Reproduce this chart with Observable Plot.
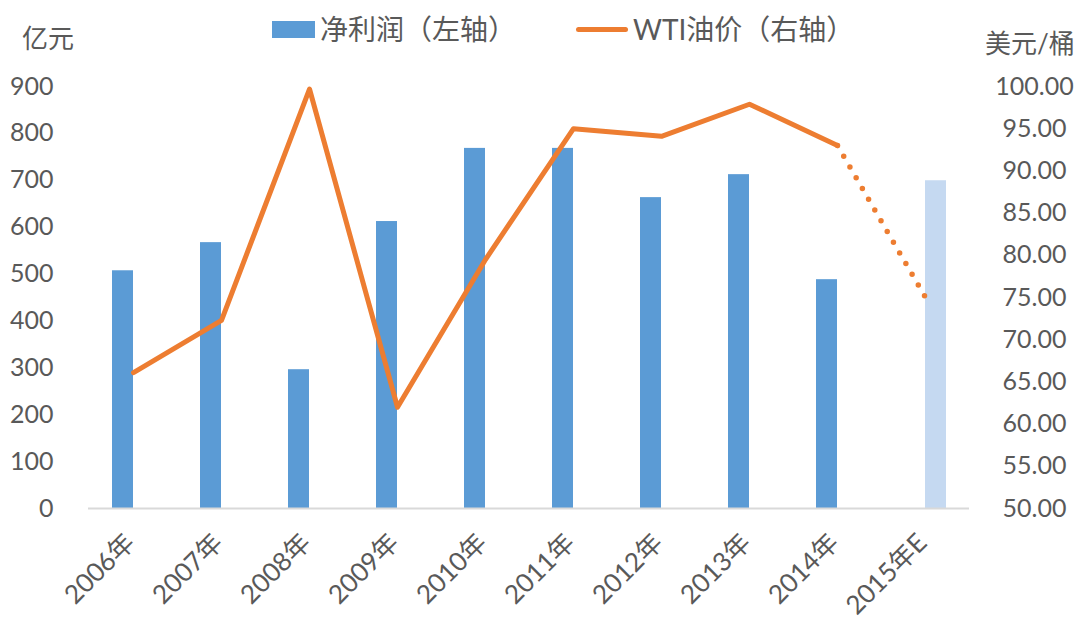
<!DOCTYPE html>
<html><head><meta charset="utf-8">
<script src="https://cdn.jsdelivr.net/npm/d3@7"></script>
<script src="https://cdn.jsdelivr.net/npm/@observablehq/plot@0.6"></script>
<style>
body{margin:0;background:#fff;font-family:Lato,"Noto Sans CJK SC",sans-serif;color:#595959}
#wrap{position:relative;width:1082px;height:619px;overflow:hidden}
.t{position:absolute;font-size:26px;white-space:nowrap;line-height:1;color:#595959}
.lg{display:flex;align-items:center;font-size:28px}
</style></head><body>
<div id="wrap">
  <div class="t" style="left:22px;top:25px">亿元</div>
  <div class="t" style="left:985px;top:30px">美元/桶</div>
  <div class="t lg" style="left:272px;top:15px"><span style="display:inline-block;width:43px;height:17px;background:#5B9BD5;margin-right:5px"></span><span id="lg1"></span></div>
  <div class="t lg" style="left:576px;top:15px"><span style="display:inline-block;width:52px;height:5px;border-radius:3px;background:#ED7D31;margin-right:5px"></span><span id="lg2"></span></div>
  <div id="chart" style="position:absolute;left:0;top:60px"></div>
</div>
<script>
const years = ["2006年","2007年","2008年","2009年","2010年","2011年","2012年","2013年","2014年","2015年E"];
const profit = [507, 567, 296, 612, 768, 768, 663, 712, 488, 699];
const oil = [66.1, 72.3, 99.7, 62.0, 79.5, 95.0, 94.1, 97.9, 93.0, 75.0];
const leftTicks = [0, 100, 200, 300, 400, 500, 600, 700, 800, 900];
const rightTicks = [50, 55, 60, 65, 70, 75, 80, 85, 90, 95, 100];
const seriesNames = ["净利润（左轴）", "WTI油价（右轴）"];

document.getElementById("lg1").textContent = seriesNames[0];
document.getElementById("lg2").textContent = seriesNames[1];

const rows = years.map((y, i) => ({year: y, profit: profit[i], oil: oil[i], est: i === years.length - 1}));
const toLeft = v => (v - 50) * 18;
const fromLeft = t => t / 18 + 50;

const chart = Plot.plot({
  width: 1082, height: 559,
  marginTop: 26, marginBottom: 111, marginLeft: 88, marginRight: 113,
  style: {fontFamily: 'Lato, "Noto Sans CJK SC", sans-serif', fontSize: "25px", color: "#595959", background: "transparent", overflow: "visible"},
  x: {type: "band", domain: years, padding: 0, label: null},
  y: {domain: [0, 900], label: null},
  marks: [
    Plot.axisY({ticks: leftTicks, tickSize: 0, tickPadding: 35, label: null, fontSize: 25, fill: "#595959"}),
    Plot.axisY({anchor: "right", ticks: rightTicks.map(toLeft), tickFormat: t => fromLeft(t).toFixed(2), tickSize: 0, tickPadding: 65, textAnchor: "middle", label: null, fontSize: 25, fill: "#595959"}),
    Plot.axisX({tickSize: 0, tickRotate: -45, tickPadding: 30, dx: -3, label: null, fontSize: 26, fill: "#595959"}),
    Plot.barY(rows.filter(d => !d.est), {x: "year", y: "profit", fill: "#5B9BD5", insetLeft: 33.5, insetRight: 33.5, dx: -10.5}),
    Plot.barY(rows.filter(d => d.est), {x: "year", y: "profit", fill: "#C5D9F1", insetLeft: 33.5, insetRight: 33.5, dx: 10.5}),
    Plot.ruleY([0], {stroke: "#D9D9D9", strokeWidth: 2}),
    Plot.line(rows.slice(0, 9), {x: "year", y: d => toLeft(d.oil), stroke: "#ED7D31", strokeWidth: 5}),
    Plot.line(rows.slice(8), {x: "year", y: d => toLeft(d.oil), stroke: "#ED7D31", strokeWidth: 5.5, strokeDasharray: "0,12.4", strokeLinecap: "round"})
  ]
});
document.getElementById("chart").appendChild(chart);
</script>
</body></html>
